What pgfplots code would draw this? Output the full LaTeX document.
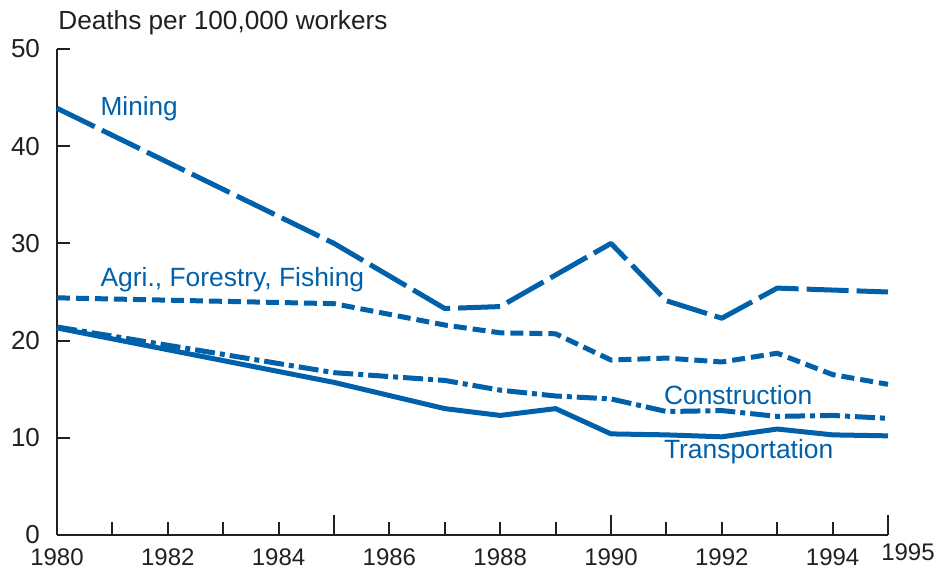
\documentclass[border=0pt]{standalone}
\usepackage{fontspec}
\setmainfont{Liberation Sans}
\usepackage{pgfplots}
\pgfplotsset{compat=1.18}
\definecolor{lineblue}{HTML}{0060A9}
\definecolor{axisgray}{HTML}{231F20}
\begin{document}
\begin{tikzpicture}
\begin{axis}[
    name=ax,
    scale only axis,
    width=415.5pt, height=243pt,
    xmin=1980, xmax=1995, ymin=0, ymax=50,
    axis x line*=bottom, axis y line*=left,
    axis line style={axisgray, line width=1pt},
    tick style={axisgray, line width=1pt},
    tick align=inside,
    major tick length=6.5pt,
    minor tick length=6.5pt,
    ytick={0,10,20,30,40,50},
    xtick={1980,1982,...,1994},
    minor xtick={1981,1983,...,1993},
    extra x ticks={1985,1990,1995},
    extra x tick labels={},
    extra x tick style={major tick length=10pt},
    /pgf/number format/assume math mode=true,
    /pgf/number format/set thousands separator={},
    ticklabel style={text=axisgray},
    yticklabel style={font=\fontsize{13}{15}\selectfont, xshift=-5pt},
    xticklabel style={font=\fontsize{12}{14}\selectfont, yshift=-3.5pt},
    clip=false,
    every axis plot/.append style={lineblue, line width=2.5pt, line join=round},
]
% Mining
\addplot[dash pattern=on 21pt off 4pt] coordinates {
(1980,43.9) (1985,30.0) (1987,23.3) (1988,23.5) (1990,30.0) (1991,24.1) (1992,22.3) (1993,25.4) (1994,25.2) (1995,25.0)};
% Agri., Forestry, Fishing
\addplot[dash pattern=on 6.5pt off 3pt] coordinates {
(1980,24.4) (1985,23.8) (1987,21.6) (1988,20.8) (1989,20.7) (1990,18.0) (1991,18.2) (1992,17.8) (1993,18.7) (1994,16.5) (1995,15.5)};
% Construction
\addplot[dash pattern=on 10pt off 2.5pt on 2.5pt off 2.5pt] coordinates {
(1980,21.4) (1985,16.7) (1987,15.9) (1988,14.9) (1989,14.3) (1990,14.0) (1991,12.7) (1992,12.8) (1993,12.2) (1994,12.3) (1995,12.0)};
% Transportation
\addplot[solid] coordinates {
(1980,21.3) (1985,15.7) (1987,13.0) (1988,12.3) (1989,13.0) (1990,10.4) (1991,10.3) (1992,10.1) (1993,10.9) (1994,10.3) (1995,10.2)};

\node[font=\fontsize{13.1}{15}\selectfont, text=lineblue, anchor=west, inner sep=0pt] at (axis cs:1980.78,43.9) {Mining};
\node[font=\fontsize{13.2}{15}\selectfont, text=lineblue, anchor=west, inner sep=0pt] at (axis cs:1980.78,26.3) {Agri., Forestry, Fishing};
\node[font=\fontsize{13.2}{15}\selectfont, text=lineblue, anchor=west, inner sep=0pt] at (axis cs:1990.95,14.4) {Construction};
\node[font=\fontsize{13.2}{15}\selectfont, text=lineblue, anchor=west, inner sep=0pt] at (axis cs:1990.95,8.55) {Transportation};
\node[font=\fontsize{12}{14}\selectfont, text=axisgray, anchor=north, inner sep=0pt] at ([xshift=10pt,yshift=-4pt]axis cs:1995,0) {1995};
\end{axis}
\node[font=\fontsize{13.1}{15}\selectfont, text=axisgray, anchor=base west, inner sep=0pt] at ([xshift=0.5pt,yshift=9.5pt]ax.north west) {Deaths per 100,000 workers};
\pgfresetboundingbox
\path ([shift={(-28.5pt,-18pt)}]ax.south west) rectangle ([shift={(27.5pt,24.5pt)}]ax.north east);
\end{tikzpicture}
\end{document}
